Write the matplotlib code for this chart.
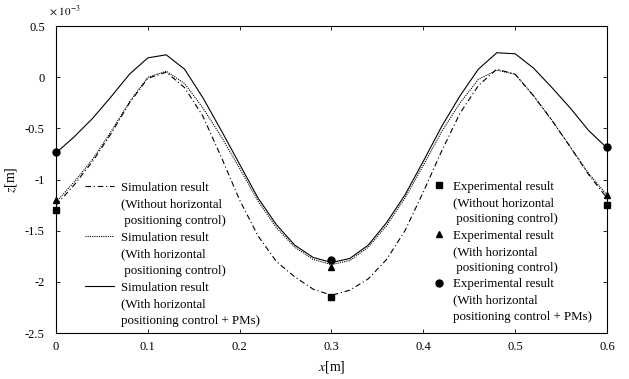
import numpy as np
import matplotlib
matplotlib.use("Agg")
import matplotlib.pyplot as plt
from matplotlib.lines import Line2D

plt.rcParams['font.family'] = ['Liberation Serif', 'DejaVu Serif']
plt.rcParams['mathtext.fontset'] = 'stix'

# simulation curves, z in 10^-3 m
x_sim = [0, 0.02, 0.04, 0.06, 0.08, 0.10, 0.12, 0.14, 0.16, 0.18, 0.20,
         0.22, 0.24, 0.26, 0.28, 0.30, 0.32, 0.34, 0.36, 0.38, 0.40,
         0.42, 0.44, 0.46, 0.48, 0.50, 0.52, 0.54, 0.56, 0.58, 0.60]
z_without = [-1.25, -1.05, -0.82, -0.55, -0.25, -0.01, 0.05, -0.10, -0.38, -0.78, -1.20,
             -1.55, -1.80, -1.95, -2.07, -2.13, -2.08, -1.97, -1.78, -1.50, -1.12,
             -0.72, -0.35, -0.08, 0.08, 0.03, -0.18, -0.42, -0.68, -0.95, -1.18]
z_with = [-1.22, -1.02, -0.80, -0.53, -0.24, 0.00, 0.06, -0.06, -0.30, -0.58, -0.89,
          -1.21, -1.47, -1.66, -1.78, -1.83, -1.79, -1.66, -1.45, -1.18, -0.86,
          -0.53, -0.25, -0.02, 0.07, 0.03, -0.18, -0.42, -0.68, -0.94, -1.15]
z_pms = [-0.74, -0.58, -0.40, -0.19, 0.03, 0.19, 0.22, 0.08, -0.20, -0.52, -0.85,
         -1.18, -1.44, -1.64, -1.76, -1.81, -1.77, -1.64, -1.42, -1.15, -0.82,
         -0.48, -0.18, 0.08, 0.24, 0.23, 0.09, -0.10, -0.30, -0.52, -0.69]

# experimental points
x_exp = [0, 0.3, 0.6]
e_without = [-1.30, -2.15, -1.25]
e_with = [-1.20, -1.85, -1.15]
e_pms = [-0.73, -1.79, -0.68]

fig = plt.figure(figsize=(6.29, 3.79), dpi=100)
ax = fig.add_axes([0.089, 0.121, 0.876, 0.810])

lw = 0.8
l1, = ax.plot(x_sim, z_without, color='black', lw=lw, dashes=(5, 2.5, 1, 2.5))
l2, = ax.plot(x_sim, z_with, color='black', lw=lw, dashes=(1, 1))
l3, = ax.plot(x_sim, z_pms, color='black', lw=lw)

m1, = ax.plot(x_exp, e_without, 's', color='black', ms=4.5, clip_on=False)
m2, = ax.plot(x_exp, e_with, '^', color='black', ms=4.5, clip_on=False)
m3, = ax.plot(x_exp, e_pms, 'o', color='black', ms=5, clip_on=False)

ax.set_xlim(0, 0.6)
ax.set_ylim(-2.5, 0.5)
ax.set_xticks([0, 0.1, 0.2, 0.3, 0.4, 0.5, 0.6])
ax.set_xticklabels(['0', '0.1', '0.2', '0.3', '0.4', '0.5', '0.6'])
ax.set_yticks([0.5, 0, -0.5, -1, -1.5, -2, -2.5])
ax.set_yticklabels(['0.5', '0', '-0.5', '-1', '-1.5', '-2', '-2.5'])
ax.tick_params(direction='in', top=True, right=True, labelsize=9, length=3, width=0.6)
ax.tick_params(axis='y', pad=8)
ax.tick_params(axis='x', pad=6)
for s in ax.spines.values():
    s.set_linewidth(0.8)

ax.set_xlabel(r'$x$[m]', fontsize=10, labelpad=4)
ax.set_ylabel(r'$z$[m]', fontsize=10, labelpad=4)
ax.text(-0.012, 1.025, r'$\times\ 10^{-3}$', transform=ax.transAxes, fontsize=8, ha='left', va='bottom')

blank = Line2D([], [], linestyle='none')
sim_h = [l1, blank, blank, l2, blank, blank, l3, blank, blank]
sim_l = ['Simulation result', '(Without horizontal', ' positioning control)',
         'Simulation result', '(With horizontal', ' positioning control)',
         'Simulation result', '(With horizontal', 'positioning control + PMs)']
leg1 = ax.legend(sim_h, sim_l, loc='upper left', bbox_to_anchor=(0.052, 0.494),
                 frameon=False, fontsize=9.3, handlelength=2.3, handletextpad=0.55,
                 labelspacing=0.36, borderpad=0, borderaxespad=0)
ax.add_artist(leg1)

exp_h = [m1, blank, blank, m2, blank, blank, m3, blank, blank]
exp_l = ['Experimental result', '(Without horizontal', ' positioning control)',
         'Experimental result', '(With horizontal', ' positioning control)',
         'Experimental result', '(With horizontal', 'positioning control + PMs)']
ax.legend(exp_h, exp_l, loc='upper left', bbox_to_anchor=(0.684, 0.497),
          frameon=False, fontsize=9.3, handlelength=0.95, handletextpad=0.6,
          labelspacing=0.33, borderpad=0, borderaxespad=0)

fig.savefig('out.png', dpi=100)
